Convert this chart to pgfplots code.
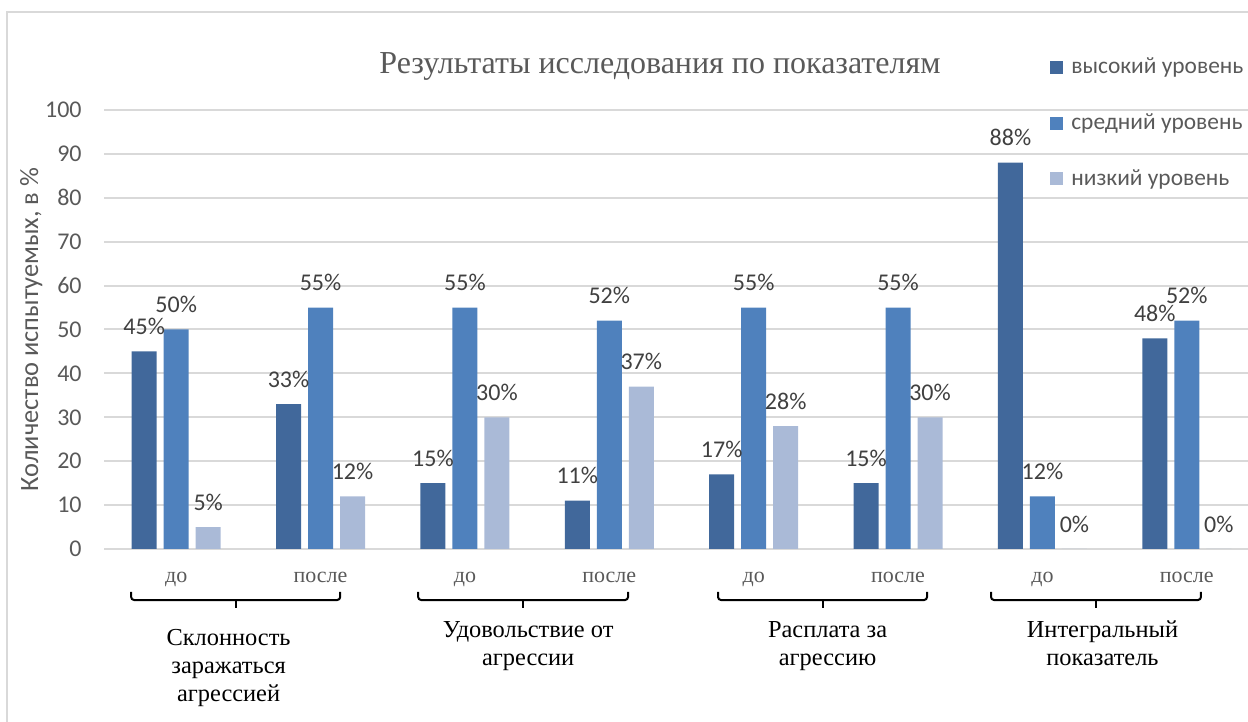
\documentclass[border=0pt]{standalone}
\usepackage{pgfplots}
\usepackage{pgfplotstable}
\pgfplotsset{compat=1.18}
\usepackage{fontspec}
\setmainfont{Liberation Serif}
\newfontfamily\carlito{Carlito}
\definecolor{cHigh}{HTML}{41689B}
\definecolor{cMid}{HTML}{4F81BD}
\definecolor{cLow}{HTML}{AABAD7}
\definecolor{txtgray}{HTML}{595959}
\definecolor{lblgray}{HTML}{404040}
\definecolor{gridgray}{HTML}{D9D9D9}

\pgfplotstableread{
x high mid low
0 45 50 5
1 33 55 12
2 15 55 30
3 11 52 37
4 17 55 28
5 15 55 30
6 88 12 0
7 48 52 0
}\datatable

\begin{document}
\begin{tikzpicture}
% chart frame (only left and top edges are inside the picture)
\draw[gridgray, line width=0.8pt] (3.5pt,-10pt) -- (3.5pt,355pt) -- (640pt,355pt);
\begin{axis}[
  at={(52pt,86.5pt)}, anchor=south west,
  scale only axis, width=577.5pt, height=219.5pt,
  xmin=-0.5, xmax=7.5, ymin=0, ymax=100,
  clip=false,
  ybar=3.5pt, bar width=12.5pt,
  axis line style={draw=none},
  major tick length=0pt,
  ymajorgrids, grid style={gridgray, line width=1pt},
  ytick={0,10,...,100},
  xtick={0,...,7},
  xticklabels={до,после,до,после,до,после,до,после},
  xticklabel style={font=\fontsize{11}{13}\selectfont, text=txtgray, anchor=base, yshift=-17pt},
  /pgf/number format/assume math mode=true,
  yticklabel style={font=\carlito\fontsize{12}{14}\selectfont, text=txtgray, anchor=east, inner sep=0pt, xshift=-11pt},
  ylabel={Количество испытуемых, в \%},
  every axis y label/.style={at={(axis description cs:-0.0571,0.5)}, rotate=90, anchor=base,
     font=\carlito\fontsize{13.2}{16}\selectfont, text=txtgray},
  title={Результаты исследования по показателям},
  every axis title/.style={at={(axis description cs:0.4814,1.082)}, anchor=base,
     font=\fontsize{16}{20}\selectfont, text=txtgray},
  legend style={at={(axis description cs:0.819,1.1196)}, anchor=north west,
     draw=none, fill=none, inner sep=0pt,
     font=\carlito\fontsize{11.7}{14}\selectfont, text=txtgray,
     nodes={inner sep=0pt}, row sep=18.5pt, column sep=4pt},
  legend cell align=left,
  legend image code/.code={\fill[#1] (0pt,-3.25pt) rectangle (6.5pt,3.25pt);},
  nodes near coords={\pgfmathprintnumber{\pgfplotspointmeta}\%},
  every node near coord/.append style={font=\carlito\fontsize{12}{14}\selectfont, text=lblgray, anchor=center, yshift=12.5pt},
]
\addplot[fill=cHigh, draw=none] table[x=x, y=high] {\datatable};
\addplot[fill=cMid, draw=none] table[x=x, y=mid] {\datatable};
\addplot[fill=cLow, draw=none] table[x=x, y=low] {\datatable};
\legend{высокий уровень, средний уровень, низкий уровень}

% brackets grouping the categories
\draw[black, line width=1pt, rounded corners=1.5pt]
  (axis cs:-0.312,-9.79) -- (axis cs:-0.312,-11.62) -- (axis cs:1.136,-11.62) -- (axis cs:1.136,-9.79);
\draw[black, line width=1pt] (axis cs:0.412,-11.62) -- (axis cs:0.412,-13.44);
\draw[black, line width=1pt, rounded corners=1.5pt]
  (axis cs:1.676,-9.79) -- (axis cs:1.676,-11.62) -- (axis cs:3.130,-11.62) -- (axis cs:3.130,-9.79);
\draw[black, line width=1pt] (axis cs:2.403,-11.62) -- (axis cs:2.403,-13.44);
\draw[black, line width=1pt, rounded corners=1.5pt]
  (axis cs:3.753,-9.79) -- (axis cs:3.753,-11.62) -- (axis cs:5.201,-11.62) -- (axis cs:5.201,-9.79);
\draw[black, line width=1pt] (axis cs:4.477,-11.62) -- (axis cs:4.477,-13.44);
\draw[black, line width=1pt, rounded corners=1.5pt]
  (axis cs:5.644,-9.79) -- (axis cs:5.644,-11.62) -- (axis cs:7.098,-11.62) -- (axis cs:7.098,-9.79);
\draw[black, line width=1pt] (axis cs:6.371,-11.62) -- (axis cs:6.371,-13.44);

% group names (anchored at the baseline of their last line)
\node[align=center, anchor=base, inner sep=0pt, font=\fontsize{12.2}{14}\selectfont, text=black]
  at (axis cs:0.363,-34.85) {Склонность\\заражаться\\агрессией};
\node[align=center, anchor=base, inner sep=0pt, font=\fontsize{12.2}{14}\selectfont, text=black]
  at (axis cs:2.438,-26.65) {Удовольствие от\\агрессии};
\node[align=center, anchor=base, inner sep=0pt, font=\fontsize{12.2}{14}\selectfont, text=black]
  at (axis cs:4.512,-26.65) {Расплата за\\агрессию};
\node[align=center, anchor=base, inner sep=0pt, font=\fontsize{12.2}{14}\selectfont, text=black]
  at (axis cs:6.416,-26.65) {Интегральный\\показатель};
\end{axis}
\pgfresetboundingbox
\useasboundingbox (0pt,0pt) rectangle (624pt,361pt);
\end{tikzpicture}
\end{document}
